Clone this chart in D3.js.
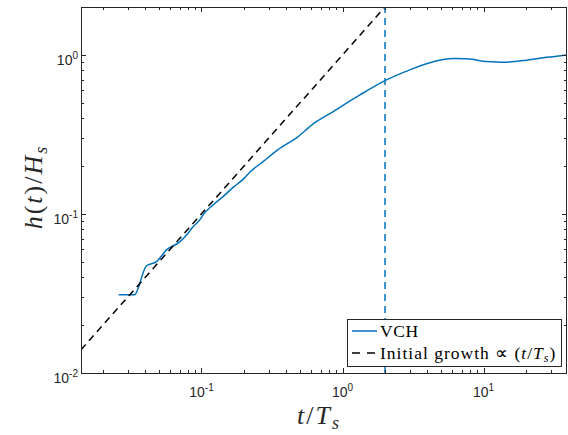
<!DOCTYPE html>
<html>
<head>
<meta charset="utf-8">
<script src="https://cdn.jsdelivr.net/npm/d3@7"></script>
<style>
  body { margin: 0; background: #fff; }
  svg { display: block; }
</style>
</head>
<body>
<svg id="chart" width="568" height="435"></svg>
<script>
// VCH growth curve: normalised time t/Ts and normalised height h(t)/Hs
const timeRatio = [0.0259, 0.0334, 0.0407, 0.048, 0.0565, 0.0702, 0.0803, 0.0868, 0.0973,
  0.1026, 0.1208, 0.1423, 0.1676, 0.197, 0.220, 0.2735, 0.3476, 0.482, 0.619, 0.858,
  1.327, 2.05, 3.0, 4.39, 6.08, 7.57, 10.5, 13.8, 20.2, 28.0, 38.8];
const heightRatio = [0.0310, 0.0310, 0.0471, 0.0501, 0.0594, 0.0667, 0.0756, 0.0828, 0.0917,
  0.0986, 0.114, 0.1285, 0.147, 0.1650, 0.1830, 0.2133, 0.2528, 0.305, 0.368, 0.440,
  0.560, 0.696, 0.805, 0.904, 0.948, 0.946, 0.908, 0.900, 0.926, 0.965, 1.0];

// Initial growth reference line h = t/Ts, drawn up to the marker time
const growthTime = [0.014, 2];
const growthHeight = [0.014, 2];

// Vertical marker at t/Ts = 2
const markerTime = 2;

const xDomain = [0.014, 39];
const yDomain = [0.01, 2];
const xMajorTicks = [0.1, 1, 10];
const yMajorTicks = [0.01, 0.1, 1];
const xTickExponents = ["-1", "0", "1"];
const yTickExponents = ["-2", "-1", "0"];

const legendLabels = ["VCH", "Initial growth"];

const svg = d3.select("#chart");
const plotLeft = 81, plotRight = 567, plotTop = 7, plotBottom = 373;
const axisColor = "#262626";
const blue = "#0072BD";

const x = d3.scaleLog().domain(xDomain).range([plotLeft, plotRight]);
const y = d3.scaleLog().domain(yDomain).range([plotBottom, plotTop]);

svg.append("defs").append("clipPath").attr("id", "plot-clip")
  .append("rect").attr("x", plotLeft).attr("y", plotTop)
  .attr("width", plotRight - plotLeft).attr("height", plotBottom - plotTop);

const plot = svg.append("g").attr("clip-path", "url(#plot-clip)");

// VCH curve
const curveData = timeRatio.map((t, i) => [t, heightRatio[i]]);
plot.append("path")
  .datum(curveData)
  .attr("fill", "none")
  .attr("stroke", blue)
  .attr("stroke-width", 1.5)
  .attr("stroke-linejoin", "round")
  .attr("d", d3.line().x(d => x(d[0])).y(d => y(d[1])).curve(d3.curveMonotoneX));

// Initial growth line
const growthData = growthTime.map((t, i) => [t, growthHeight[i]]);
plot.append("path")
  .datum(growthData)
  .attr("fill", "none")
  .attr("stroke", "#000")
  .attr("stroke-width", 1.5)
  .attr("stroke-dasharray", "7,5")
  .attr("d", d3.line().x(d => x(d[0])).y(d => y(d[1])));

// Marker line
plot.append("line")
  .attr("x1", x(markerTime)).attr("x2", x(markerTime))
  .attr("y1", y(yDomain[0])).attr("y2", y(yDomain[1]))
  .attr("stroke", blue)
  .attr("stroke-width", 1.5)
  .attr("stroke-dasharray", "7,5");

// Axes: ticks inside on all four sides
const axes = svg.append("g").attr("stroke", axisColor).attr("stroke-width", 1);
const xTicksAll = x.ticks();
const yTicksAll = y.ticks();
const isMajor = (v, majors) => majors.some(m => Math.abs(v / m - 1) < 1e-6);

xTicksAll.forEach(t => {
  const len = isMajor(t, xMajorTicks) ? 5 : 3;
  const px = Math.round(x(t)) + 0.5;
  axes.append("line").attr("x1", px).attr("x2", px).attr("y1", plotBottom).attr("y2", plotBottom - len);
  axes.append("line").attr("x1", px).attr("x2", px).attr("y1", plotTop).attr("y2", plotTop + len);
});
yTicksAll.forEach(v => {
  const len = isMajor(v, yMajorTicks) ? 5 : 3;
  const py = Math.round(y(v)) + 0.5;
  axes.append("line").attr("x1", plotLeft).attr("x2", plotLeft + len).attr("y1", py).attr("y2", py);
  axes.append("line").attr("x1", plotRight).attr("x2", plotRight - len).attr("y1", py).attr("y2", py);
});
axes.append("rect")
  .attr("x", plotLeft + 0.5).attr("y", plotTop + 0.5)
  .attr("width", plotRight - plotLeft - 1).attr("height", plotBottom - plotTop)
  .attr("fill", "none");

// Tick labels
const tickFont = "'Liberation Sans', Arial, Helvetica, sans-serif";
xMajorTicks.forEach((t, i) => {
  const txt = svg.append("text")
    .attr("x", x(t)).attr("y", 397)
    .attr("text-anchor", "middle")
    .attr("font-family", tickFont).attr("font-size", 14)
    .attr("fill", axisColor);
  txt.append("tspan").text("10");
  txt.append("tspan").attr("dy", -6).attr("font-size", 10).text(xTickExponents[i]);
});
yMajorTicks.forEach((v, i) => {
  const txt = svg.append("text")
    .attr("x", 78).attr("y", y(v) + 10)
    .attr("text-anchor", "end")
    .attr("font-family", tickFont).attr("font-size", 14)
    .attr("fill", axisColor);
  txt.append("tspan").text("10");
  txt.append("tspan").attr("dy", -6).attr("font-size", 10).text(yTickExponents[i]);
});

// Axis titles
const mathFont = "'Liberation Serif', 'Times New Roman', serif";
const xTitle = svg.append("text")
  .attr("x", 319).attr("y", 424)
  .attr("text-anchor", "middle")
  .attr("font-family", mathFont).attr("font-size", 26)
  .attr("letter-spacing", 2)
  .attr("fill", axisColor);
xTitle.append("tspan").attr("font-style", "italic").text("t");
xTitle.append("tspan").text("/");
xTitle.append("tspan").attr("font-style", "italic").text("T");
xTitle.append("tspan").attr("font-style", "italic").attr("font-size", 18).attr("dy", 5).text("s");

const yTitle = svg.append("text")
  .attr("transform", "translate(42,187) rotate(-90)")
  .attr("text-anchor", "middle")
  .attr("font-family", mathFont).attr("font-size", 26)
  .attr("letter-spacing", 2)
  .attr("fill", axisColor);
yTitle.append("tspan").attr("font-style", "italic").text("h");
yTitle.append("tspan").text("(");
yTitle.append("tspan").attr("font-style", "italic").text("t");
yTitle.append("tspan").text(")/");
yTitle.append("tspan").attr("font-style", "italic").text("H");
yTitle.append("tspan").attr("font-style", "italic").attr("font-size", 18).attr("dy", 5).text("s");

// Legend
const legend = svg.append("g");
legend.append("rect")
  .attr("x", 347.5).attr("y", 319.5).attr("width", 214).attr("height", 47)
  .attr("fill", "#fff").attr("stroke", axisColor).attr("stroke-width", 1);
legend.append("line")
  .attr("x1", 352).attr("x2", 377).attr("y1", 331).attr("y2", 331)
  .attr("stroke", blue).attr("stroke-width", 1.5);
legend.append("line")
  .attr("x1", 352).attr("x2", 375).attr("y1", 353).attr("y2", 353)
  .attr("stroke", "#000").attr("stroke-width", 1.5).attr("stroke-dasharray", "8,7");
legend.append("text")
  .attr("x", 380).attr("y", 336.5)
  .attr("font-family", mathFont).attr("font-size", 17.5).attr("fill", "#000")
  .attr("letter-spacing", 0.6)
  .text(legendLabels[0]);
const l2 = legend.append("text")
  .attr("x", 380).attr("y", 358.5)
  .attr("font-family", mathFont).attr("font-size", 17.5).attr("fill", "#000")
  .attr("letter-spacing", 1);
l2.append("tspan").text(legendLabels[1] + " \u221D (");
l2.append("tspan").attr("font-style", "italic").text("t");
l2.append("tspan").text("/");
l2.append("tspan").attr("font-style", "italic").text("T");
l2.append("tspan").attr("font-style", "italic").attr("font-size", 12).attr("dy", 3).text("s");
l2.append("tspan").attr("dy", -3).text(")");
</script>
</body>
</html>
